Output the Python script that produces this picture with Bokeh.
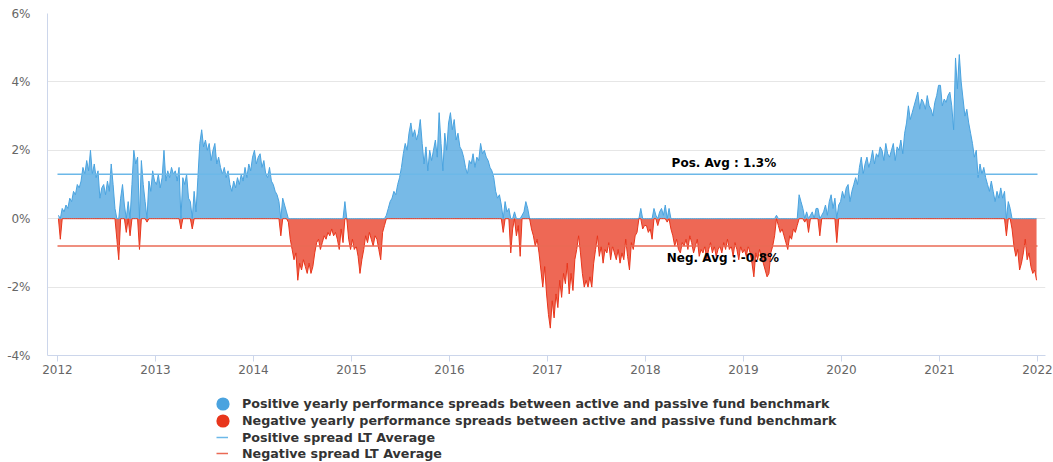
import numpy as np
from bokeh.plotting import figure
from bokeh.layouts import column
from bokeh.models import (ColumnDataSource, FixedTicker, PrintfTickFormatter, Legend,
                          LegendItem, Label, Range1d)
from bokeh.embed import file_html
from bokeh.resources import INLINE

# ---------------- data (weekly spread, %) ----------------
years = [2012, 2013, 2014, 2015, 2016, 2017, 2018, 2019, 2020, 2021, 2022]
y_ticks = [-4, -2, 0, 2, 4, 6]

spread_2012 = [0.1, -0.6, 0.3, 0.2, 0.4, 0.3, 0.6, 0.5, 0.8, 0.7, 1.0, 0.9, 1.1,
               1.5, 1.3, 1.7, 1.4, 2.0, 1.3, 1.6, 1.2, 1.4, 0.6, 0.9, 1.0, 0.7,
               1.1, 0.8, 1.6, 1.0, 0.3, -0.6, -1.2, 0.6, 1.0, 0.4, -0.4, 0.5, -0.5,
               1.0, 2.0, 1.6, 1.8, -0.9, 1.7, 1.0, 0.5, -0.1, 1.1, 0.8, 1.4, 1.1]
spread_2013 = [1.0, 1.3, 0.9, 1.2, 2.0, 1.1, 1.4, 1.2, 1.5, 1.3, 1.4, 1.1, 1.5,
               -0.3, 1.2, 1.0, 1.3, 0.6, 0.5, -0.3, 0.8, 0.2, 1.2, 2.2, 2.6, 2.1,
               2.3, 2.0, 2.2, 1.7, 2.0, 2.2, 1.6, 1.8, 1.5, 1.3, 1.5, 1.2, 1.4,
               1.0, 0.8, 1.1, 0.9, 1.2, 1.0, 1.3, 1.1, 1.5, 1.2, 1.6, 1.4, 1.8]
spread_2014 = [2.0, 1.6, 1.8, 1.9, 1.5, 1.7, 1.3, 1.2, 1.5, 1.1, 1.0, 0.8, 0.7,
               0.5, -0.5, 0.6, 0.4, 0.2, -0.1, -0.6, -0.9, -1.2, -1.0, -1.8, -1.3, -1.5,
               -1.2, -1.4, -1.6, -1.3, -1.6, -1.4, -1.0, -0.7, -0.6, -0.9, -0.7, -0.5, -0.6,
               -0.4, -0.5, -0.3, -0.5, -0.4, -0.6, -0.9, -0.3, -0.7, 0.5, 0.0, -0.6, -0.9]
spread_2015 = [-0.6, -0.9, -0.8, -1.1, -1.6, -1.2, -0.9, -0.5, -0.7, -0.4, -0.6, -0.8, -0.5,
               -0.6, -0.9, -1.2, -0.4, -0.2, 0.1, 0.3, 0.5, 0.6, 0.8, 0.7, 1.0, 1.2,
               1.5, 1.9, 2.2, 2.0, 2.5, 2.8, 2.4, 2.6, 2.3, 2.5, 2.9, 2.2, 1.6,
               2.1, 1.4, 2.0, 1.7, 2.0, 2.3, 1.8, 3.1, 2.2, 1.4, 2.5, 2.0, 2.8]
spread_2016 = [3.1, 2.6, 2.9, 2.3, 2.5, 2.1, 2.0, 1.8, 1.5, 1.3, 1.7, 1.6, 1.9,
               1.5, 1.8, 1.7, 2.2, 1.9, 2.0, 1.8, 1.7, 1.5, 1.4, 1.2, 0.8, 0.6,
               0.7, 0.4, -0.4, 0.5, 0.2, 0.3, -1.0, -0.3, 0.2, -0.5, -0.2, -1.1, 0.1,
               0.2, 0.5, 0.3, 0.0, -0.3, -0.5, -0.8, -0.6, -1.0, -1.5, -2.0, -1.4, -2.2]
spread_2017 = [-2.8, -3.2, -2.4, -2.9, -2.2, -2.6, -1.8, -2.3, -1.6, -1.9, -1.3, -2.2, -1.6,
               -2.1, -1.2, -0.9, -0.5, -1.0, -1.6, -2.0, -1.8, -2.0, -1.7, -2.0, -1.3, -0.9,
               -0.5, -1.1, -0.8, -1.3, -0.9, -1.0, -0.7, -1.2, -0.8, -1.0, -1.2, -0.9, -1.3,
               -1.0, -1.2, -0.6, -1.1, -1.5, -0.7, -0.9, -0.5, -0.4, 0.0, 0.3, -0.3, -0.2]
spread_2018 = [-0.2, -0.4, -0.3, -0.6, 0.3, 0.1, -0.2, 0.2, 0.3, 0.1, 0.4, -0.1, 0.3,
               -0.3, -0.5, -0.8, -0.6, -0.9, -1.0, -0.7, -0.8, -0.6, -0.9, -0.5, -0.7, -1.0,
               -0.8, -0.6, -1.1, -0.9, -1.0, -0.8, -1.2, -0.9, -0.7, -1.0, -0.8, -1.1, -0.9,
               -0.8, -1.0, -0.7, -0.9, -0.6, -0.9, -0.8, -1.1, -0.7, -0.9, -1.2, -0.8, -1.0]
spread_2019 = [-0.9, -1.1, -0.8, -1.0, -1.3, -1.7, -1.0, -1.2, -0.9, -1.1, -1.3, -1.5, -1.7,
               -1.6, -1.0, -0.8, -0.5, 0.1, -0.2, -0.4, -0.3, -0.5, -0.7, -0.9, -0.5, -0.6,
               -0.3, -0.4, -0.2, 0.7, 0.5, 0.3, -0.1, 0.2, -0.4, 0.1, 0.2, 0.0, 0.3,
               0.3, -0.5, 0.1, 0.2, 0.4, 0.1, 0.5, 0.7, 0.3, 0.6, -0.7, 0.4, 0.5]
spread_2020 = [0.8, 0.6, 0.9, 1.0, 0.5, 0.8, 1.0, 1.2, 1.0, 1.5, 1.8, 1.3, 1.6,
               1.8, 1.5, 1.7, 2.0, 1.6, 1.9, 1.8, 2.1, 2.0, 1.7, 2.2, 1.9, 1.8,
               2.0, 2.2, 1.7, 2.1, 2.0, 2.3, 1.9, 2.5, 2.8, 3.3, 2.9, 3.1, 3.3,
               3.5, 3.7, 3.2, 3.5, 3.4, 3.2, 3.6, 3.3, 3.2, 3.0, 3.4, 3.6, 3.9]
spread_2021 = [3.9, 3.3, 3.5, 3.4, 3.6, 3.7, 3.3, 2.6, 4.7, 3.8, 4.8, 4.0, 3.5,
               3.0, 3.2, 2.8, 2.5, 2.2, 1.8, 2.0, 1.2, 1.6, 1.3, 1.5, 1.2, 1.0,
               0.8, 1.1, 0.8, 0.5, 0.8, 0.6, 0.9, 0.6, 0.8, -0.5, 0.5, 0.3, -0.3,
               -0.8, -1.1, -0.9, -1.5, -1.3, -1.0, -0.6, -1.2, -1.0, -1.4, -1.6, -1.5, -1.8]

pos_avg = 1.3
neg_avg = -0.8
pos_label = "Pos. Avg : 1.3%"
neg_label = "Neg. Avg : -0.8%"

legend_labels = [
    "Positive yearly performance spreads between active and passive fund benchmark",
    "Negative yearly performance spreads between active and passive fund benchmark",
    "Positive spread LT Average",
    "Negative spread LT Average",
]

# ---------------- build series ----------------
by_year = {2012: spread_2012, 2013: spread_2013, 2014: spread_2014, 2015: spread_2015,
           2016: spread_2016, 2017: spread_2017, 2018: spread_2018, 2019: spread_2019,
           2020: spread_2020, 2021: spread_2021}
xs, vals = [], []
for yr, v in by_year.items():
    n = len(v)
    xs.extend([yr + (i + 0.5) / n for i in range(n)])
    vals.extend(v)
xs = np.array(xs)
vals = np.array(vals)
pos = np.where(vals > 0, vals, 0.0)
neg = np.where(vals < 0, vals, 0.0)
src = ColumnDataSource(dict(x=xs, pos=pos, neg=neg, zero=np.zeros_like(xs)))

BLUE = "#4aa3df"
RED = "#e8361c"
AVG_BLUE = "#6cb8e8"
AVG_RED = "#ea6a55"
FONT = "DejaVu Sans"

# ---------------- main figure ----------------
FIG_W = 1053
MAIN_H, LEG_H = 380, 82
BL, BR, BT, BB = 47, 8, 13, 25
W_FRAME = FIG_W - BL - BR
scale = 980.0 / (years[-1] - years[0])
x_start = years[0] - 10.0 / scale
x_end = x_start + W_FRAME / scale

p = figure(width=FIG_W, height=MAIN_H, output_backend="svg", toolbar_location=None,
           x_range=Range1d(x_start, x_end), y_range=Range1d(-4, 6),
           min_border_left=BL, min_border_right=BR, min_border_top=BT, min_border_bottom=BB)
p.outline_line_color = None
p.background_fill_color = "white"
p.border_fill_color = "white"

p.varea(x="x", y1="zero", y2="pos", source=src, fill_color=BLUE, fill_alpha=0.75)
p.varea(x="x", y1="neg", y2="zero", source=src, fill_color=RED, fill_alpha=0.75)
p.line(x="x", y="pos", source=src, line_color=BLUE, line_width=1)
p.line(x="x", y="neg", source=src, line_color=RED, line_width=1)

p.line(x=[years[0], years[-1]], y=[pos_avg, pos_avg], line_color=AVG_BLUE, line_width=1.5)
p.line(x=[years[0], years[-1]], y=[neg_avg, neg_avg], line_color=AVG_RED, line_width=1.5)

p.add_layout(Label(x=2018.80, y=pos_avg + 0.34, text=pos_label, text_align="center",
                   text_baseline="middle", text_font=FONT, text_font_size="12px",
                   text_font_style="bold", text_color="black"))
p.add_layout(Label(x=2018.79, y=neg_avg - 0.34, text=neg_label, text_align="center",
                   text_baseline="middle", text_font=FONT, text_font_size="12px",
                   text_font_style="bold", text_color="black"))

p.xaxis.ticker = FixedTicker(ticks=years)
p.xaxis.formatter = PrintfTickFormatter(format="%d")
p.xaxis.axis_line_color = "#ccd6eb"
p.xaxis.major_tick_line_color = "#ccd6eb"
p.xaxis.major_tick_out = 6
p.xaxis.major_tick_in = 0
p.xaxis.minor_tick_line_color = None
p.xaxis.major_label_standoff = 3
p.xaxis.major_label_text_font = FONT
p.xaxis.major_label_text_font_size = "12px"
p.xaxis.major_label_text_color = "#666666"

p.yaxis.ticker = FixedTicker(ticks=y_ticks)
p.yaxis.formatter = PrintfTickFormatter(format="%d%%")
p.yaxis.axis_line_color = "#ccd6eb"
p.yaxis.major_tick_line_color = None
p.yaxis.major_tick_out = 0
p.yaxis.major_tick_in = 0
p.yaxis.minor_tick_line_color = None
p.yaxis.major_label_standoff = 17
p.yaxis.major_label_text_font = FONT
p.yaxis.major_label_text_font_size = "12px"
p.yaxis.major_label_text_color = "#666666"

p.xgrid.visible = False
p.ygrid.ticker = FixedTicker(ticks=y_ticks)
p.ygrid.grid_line_color = "#e6e6e6"

# ---------------- legend strip ----------------
lg = figure(width=FIG_W, height=LEG_H, output_backend="svg", toolbar_location=None,
            x_range=Range1d(0, 1), y_range=Range1d(0, 1),
            x_axis_location=None, y_axis_location=None,
            min_border_left=0, min_border_right=0, min_border_top=0, min_border_bottom=0)
lg.outline_line_color = None
lg.xgrid.visible = False
lg.ygrid.visible = False

# off-range swatch renderers (only their legend glyphs are seen)
dummy_blue = lg.scatter(x=[-5], y=[-5], marker="circle", fill_color=BLUE, line_color=None)
dummy_red = lg.scatter(x=[-5], y=[-5], marker="circle", fill_color=RED, line_color=None)
dummy_pos = lg.line(x=[-5, -4], y=[-5, -5], line_color=AVG_BLUE, line_width=1.5)
dummy_neg = lg.line(x=[-5, -4], y=[-5, -5], line_color=AVG_RED, line_width=1.5)

common = dict(border_line_color=None, background_fill_alpha=0, padding=0, margin=0,
              label_text_font=FONT, label_text_font_size="12.7px",
              label_text_font_style="bold", label_text_color="#333333")
legA1 = Legend(items=[LegendItem(label=legend_labels[0], renderers=[dummy_blue])],
               location=(159, 42), glyph_width=33, glyph_height=33, label_height=33,
               spacing=0, label_standoff=3, **common)
legA2 = Legend(items=[LegendItem(label=legend_labels[1], renderers=[dummy_red])],
               location=(159, 25), glyph_width=33, glyph_height=33, label_height=33,
               spacing=0, label_standoff=3, **common)
legB = Legend(items=[LegendItem(label=legend_labels[2], renderers=[dummy_pos]),
                     LegendItem(label=legend_labels[3], renderers=[dummy_neg])],
              location=(169, 1), glyph_width=12, glyph_height=16, label_height=16,
              spacing=0, label_standoff=14, **common)
lg.add_layout(legA1)
lg.add_layout(legA2)
lg.add_layout(legB)

layout = column(p, lg, spacing=0)
open("out.html", "w").write(file_html(layout, INLINE))
